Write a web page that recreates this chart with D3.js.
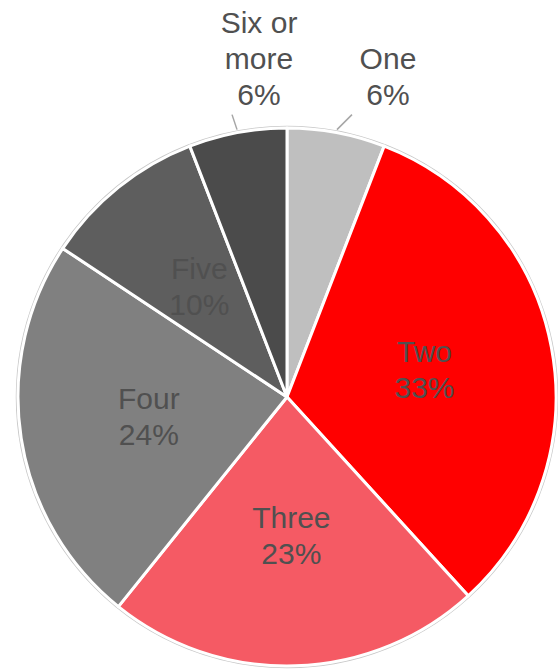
<!DOCTYPE html>
<html>
<head>
<meta charset="utf-8">
<script src="https://cdn.jsdelivr.net/npm/d3@7"></script>
<style>
  html, body { margin: 0; padding: 0; background: #ffffff; }
  svg { display: block; }
</style>
</head>
<body>
<div id="chart"></div>
<script>
// Household size shares
const categories = ["One", "Two", "Three", "Four", "Five", "Six or more"];
const shares = [6, 33, 23, 24, 10, 6];
const sliceColors = ["#bfbfbf", "#ff0000", "#f55a64", "#808080", "#5e5e5e", "#4b4b4b"];
// Line-broken label text for each slice
const labelLines = [["One"], ["Two"], ["Three"], ["Four"], ["Five"], ["Six or", "more"]];
// Which labels sit outside the pie with a leader line
const outsideLabel = [true, false, false, false, false, true];

const width = 558, height = 671;
const cx = 287, cy = 397, R = 269;
const fontSize = 30, lineH = 36;
const fontFamily = "Liberation Sans, Arial, sans-serif";
const textColor = "#505050";

const svg = d3.select("#chart").append("svg")
  .attr("width", width).attr("height", height);

const g = svg.append("g").attr("transform", `translate(${cx},${cy})`);

const data = categories.map((c, i) => ({ name: c, value: shares[i], i }));
const pie = d3.pie().value(d => d.value).sort(null);
const arcs = pie(data);

const arc = d3.arc().innerRadius(0).outerRadius(R);

// Thin grey rim around the whole pie
g.append("circle")
  .attr("r", R + 1.5)
  .attr("fill", "none")
  .attr("stroke", "#c8c8c8")
  .attr("stroke-width", 1.5);

g.selectAll("path.slice")
  .data(arcs)
  .join("path")
  .attr("class", "slice")
  .attr("d", arc)
  .attr("fill", d => sliceColors[d.data.i])
  .attr("stroke", "#ffffff")
  .attr("stroke-width", 3)
  .attr("stroke-linejoin", "round");

const pct = d => Math.round(d.data.value) + "%";

// Labels inside the slices
const innerArc = d3.arc().innerRadius(R * 0.52).outerRadius(R * 0.52);
arcs.filter(d => !outsideLabel[d.data.i]).forEach(d => {
  const [x, y] = innerArc.centroid(d);
  const lines = labelLines[d.data.i].concat([pct(d)]);
  const t = g.append("text")
    .attr("text-anchor", "middle")
    .attr("font-family", fontFamily)
    .attr("font-size", fontSize)
    .attr("fill", textColor);
  const y0 = y - (lines.length - 1) * lineH / 2 + fontSize * 0.36 - 2;
  lines.forEach((s, k) => {
    t.append("tspan").attr("x", x).attr("y", y0 + k * lineH).text(s);
  });
});

// Labels outside the pie with short leader lines
const rimArc = d3.arc().innerRadius(R + 3).outerRadius(R + 3);
arcs.filter(d => outsideLabel[d.data.i]).forEach(d => {
  const [x1, y1] = rimArc.centroid(d);
  const side = x1 >= 0 ? 1 : -1;
  const x2 = x1 + (side > 0 ? 15 : -5);
  const y2 = y1 - 15;
  g.append("line")
    .attr("x1", x1).attr("y1", y1).attr("x2", x2).attr("y2", y2)
    .attr("stroke", "#a6a6a6").attr("stroke-width", 1.5);
  const lines = labelLines[d.data.i].concat([pct(d)]);
  const lx = x2 + (side > 0 ? 36 : 27);
  const lastBaseline = y2 - 10;
  const t = g.append("text")
    .attr("text-anchor", "middle")
    .attr("font-family", fontFamily)
    .attr("font-size", fontSize)
    .attr("fill", textColor);
  lines.forEach((s, k) => {
    t.append("tspan").attr("x", lx)
      .attr("y", lastBaseline - (lines.length - 1 - k) * lineH).text(s);
  });
});
</script>
</body>
</html>
